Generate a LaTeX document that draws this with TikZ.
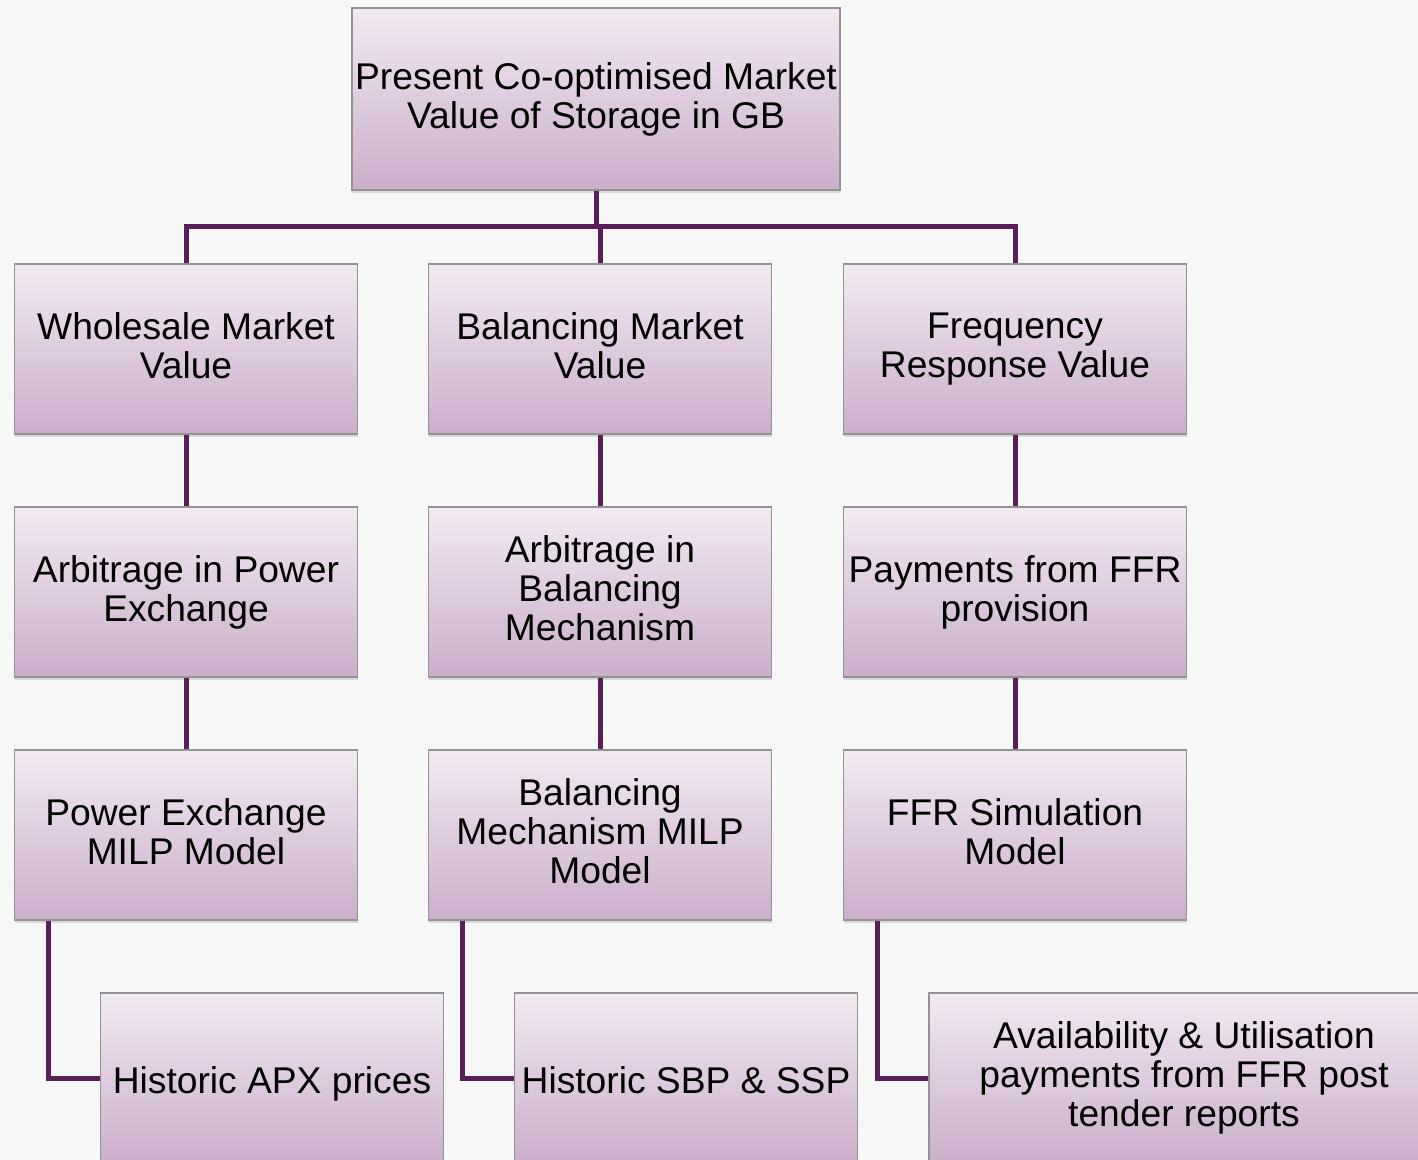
\documentclass[tikz,border=0pt]{standalone}
\usepackage{fontspec}
\setmainfont{Liberation Sans}
\usepackage{xcolor}
\usetikzlibrary{positioning}
\usetikzlibrary{calc}
\usetikzlibrary{shadows}
\definecolor{boxtop}{HTML}{F2EAF2}
\definecolor{boxbot}{HTML}{CBAECB}
\definecolor{linkpurple}{HTML}{5A1F58}
\definecolor{bggray}{HTML}{F7F7F7}

\begin{document}
\begin{tikzpicture}[x=0.5pt,y=-0.5pt,
		valbox/.style={draw=gray!85, line width=0.6pt, top color=boxtop, bottom color=boxbot,
			minimum width=171.5pt, minimum height=85pt, align=center, inner sep=1pt,
			font=\fontsize{18.6}{19.5}\selectfont,
			execute at begin node=\rule{0pt}{19.4pt}, execute at end node=\rule[-3.9pt]{0pt}{3.9pt},
			drop shadow={shadow xshift=0pt, shadow yshift=-1.5pt, opacity=0.25}},
		link/.style={linkpurple, line width=2.5pt}]
	% page and background
	\useasboundingbox (0,0) rectangle (1418,1160);
	\fill[bggray] (0,0) rectangle (1418,1160);
	\clip (0,0) rectangle (1418,1160);
	% top box
	\node[valbox, minimum width=244pt, minimum height=91pt] (top) at (596,99) {Present Co-optimised Market\\Value of Storage in GB};
	% value boxes
	\node[valbox] (wm) at (186,349) {Wholesale Market\\Value};
	\node[valbox] (bm) at (600,349) {Balancing Market\\Value};
	\node[valbox] (fr) at (1015,349) {Frequency\\Response Value};
	% revenue boxes
	\node[valbox] (arbpx) at (186,592) {Arbitrage in Power\\Exchange};
	\node[valbox] (arbbm) at (600,592) {Arbitrage in\\Balancing\\Mechanism};
	\node[valbox] (ffrpay) at (1015,592) {Payments from FFR\\provision};
	% model boxes
	\node[valbox] (pxmodel) at (186,835) {Power Exchange\\MILP Model};
	\node[valbox] (bmmodel) at (600,835) {Balancing\\Mechanism MILP\\Model};
	\node[valbox] (ffrmodel) at (1015,835) {FFR Simulation\\Model};
	% data boxes
	\node[valbox] (apx) at (272,1078) {Historic APX prices};
	\node[valbox] (sbp) at (686,1078) {Historic SBP \& SSP};
	\node[valbox, minimum width=255pt] (tender) at (1184,1078) {Availability \& Utilisation\\payments from FFR post\\tender reports};
	% connectors
	\coordinate (bus) at (596,227);
	\draw[link] (top.south) -- (bus);
	\draw[link] (wm.north) |- (bus);
	\draw[link] (fr.north) |- (bus);
	\draw[link] (bm.north) -- (bm.north |- bus);
	\draw[link] (wm.south) -- (arbpx.north);
	\draw[link] (bm.south) -- (arbbm.north);
	\draw[link] (fr.south) -- (ffrpay.north);
	\draw[link] (arbpx.south) -- (pxmodel.north);
	\draw[link] (arbbm.south) -- (bmmodel.north);
	\draw[link] (ffrpay.south) -- (ffrmodel.north);
	\draw[link] ($(pxmodel.south west)+(35,0)$) |- (apx.west);
	\draw[link] ($(bmmodel.south west)+(35,0)$) |- (sbp.west);
	\draw[link] ($(ffrmodel.south west)+(35,0)$) |- (tender.west);
\end{tikzpicture}
\end{document}
